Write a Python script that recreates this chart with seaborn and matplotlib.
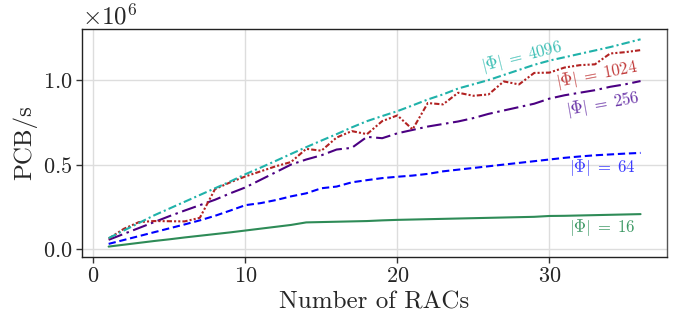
import numpy as np
import pandas as pd
import matplotlib
matplotlib.use("Agg")
import matplotlib.pyplot as plt
import seaborn as sns

racs = list(range(1, 37))
phi16 = [0.015, 0.026, 0.037, 0.048, 0.058, 0.069, 0.079, 0.089, 0.099, 0.110,
         0.121, 0.132, 0.143, 0.158, 0.160, 0.162, 0.164, 0.166, 0.170, 0.173,
         0.175, 0.177, 0.179, 0.181, 0.183, 0.185, 0.187, 0.189, 0.191, 0.196,
         0.197, 0.199, 0.201, 0.203, 0.205, 0.207]
phi64 = [0.031, 0.054, 0.077, 0.100, 0.123, 0.146, 0.170, 0.197, 0.228, 0.260,
         0.272, 0.290, 0.312, 0.330, 0.360, 0.370, 0.395, 0.408, 0.420, 0.428,
         0.435, 0.445, 0.460, 0.470, 0.480, 0.490, 0.500, 0.510, 0.520, 0.530,
         0.540, 0.548, 0.555, 0.560, 0.565, 0.569]
phi256 = [0.055, 0.090, 0.125, 0.160, 0.195, 0.228, 0.260, 0.292, 0.330, 0.365,
          0.410, 0.455, 0.500, 0.530, 0.555, 0.589, 0.599, 0.664, 0.656, 0.685,
          0.705, 0.725, 0.740, 0.755, 0.775, 0.800, 0.820, 0.840, 0.860, 0.890,
          0.910, 0.925, 0.940, 0.960, 0.975, 0.994]
phi1024 = [0.062, 0.120, 0.160, 0.166, 0.165, 0.164, 0.185, 0.355, 0.395, 0.430,
           0.460, 0.490, 0.515, 0.593, 0.582, 0.660, 0.698, 0.680, 0.757, 0.791,
           0.708, 0.864, 0.856, 0.925, 0.907, 0.915, 0.992, 0.974, 1.042, 1.044,
           1.074, 1.088, 1.093, 1.157, 1.165, 1.177]
phi4096 = [0.065, 0.110, 0.155, 0.200, 0.240, 0.280, 0.320, 0.360, 0.400, 0.443,
           0.482, 0.522, 0.563, 0.603, 0.642, 0.680, 0.720, 0.757, 0.787, 0.816,
           0.850, 0.885, 0.915, 0.950, 0.975, 1.000, 1.030, 1.060, 1.090, 1.115,
           1.135, 1.155, 1.175, 1.195, 1.218, 1.241]

series_names = ["16", "64", "256", "1024", "4096"]
series_vals = [phi16, phi64, phi256, phi1024, phi4096]
colors = ["#2e8b57", "#0000ff", "#4b0082", "#b22222", "#20b2aa"]
text_colors = ["#3f9a66", "#3b3bff", "#6a35a8", "#c23b3b", "#3dbfb5"]
dashes = [None, (3.5, 1.8), (7, 2.2, 1.2, 2.2), (2.5, 1, 1, 1, 1, 1), (4, 1.5, 1, 1.5)]
label_x = [33.5, 33.5, 33.5, 33.1, 28.2]
label_y = [0.13e6, 0.48e6, 0.86e6, 1.03e6, 1.14e6]
label_rot = [0, 0, 10, 11, 14]

sns.set_theme(style="whitegrid")
plt.rcParams["font.family"] = ["cmr10"]
plt.rcParams["mathtext.fontset"] = "cm"
plt.rcParams["axes.formatter.use_mathtext"] = True
plt.rcParams["axes.unicode_minus"] = False

fig = plt.figure(figsize=(6.78, 3.18), dpi=100)
ax = fig.add_axes([0.121, 0.192, 0.863, 0.717])

for name, vals, c, d in zip(series_names, series_vals, colors, dashes):
    df = pd.DataFrame({"x": racs, "y": np.array(vals) * 1e6})
    sns.lineplot(data=df, x="x", y="y", ax=ax, color=c, linewidth=1.5)
    l = ax.get_lines()[-1]
    if d is not None:
        l.set_dashes(d)

for name, tx, ty, rot, tc in zip(series_names, label_x, label_y, label_rot, text_colors):
    ax.text(tx, ty, r"$|\Phi|\;=\;%s$" % name, color=tc, fontsize=12,
            rotation=rot, ha="center", va="center", rotation_mode="anchor")

ax.set_xlabel("Number of RACs", fontsize=18)
ax.set_ylabel("PCB/s", fontsize=18)
ax.tick_params(axis="both", labelsize=16, length=4, width=1, color="#333333",
               pad=3, bottom=True, left=True)
ax.set_yticks([0, 0.5e6, 1.0e6])
ax.set_xticks([0, 10, 20, 30])
ax.yaxis.get_offset_text().set_fontsize(18)
ax.grid(True, color="#dddddd", linewidth=1.0)
for s in ax.spines.values():
    s.set_color("#222222")
    s.set_linewidth(1.0)
ax.spines["right"].set_color("#555555")

fig.savefig("out.png", dpi=100)
